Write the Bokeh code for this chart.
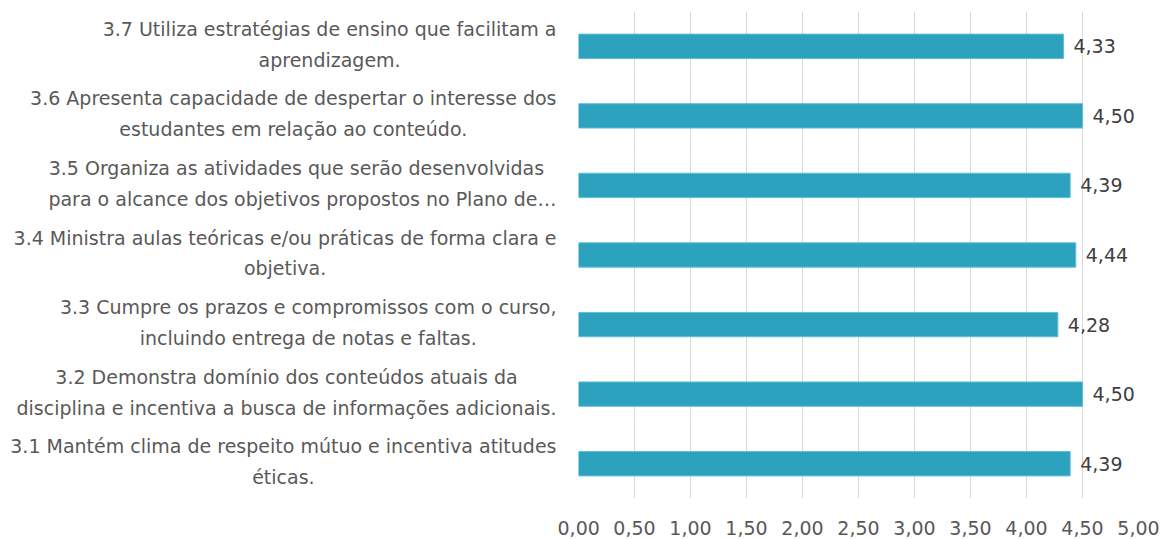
from bokeh.plotting import figure
from bokeh.layouts import row
from bokeh.models import ColumnDataSource, FixedTicker, Range1d, FactorRange
from bokeh.embed import file_html
from bokeh.resources import INLINE
from bokeh.core.properties import value

categories = [
    "3.1 Mantém clima de respeito mútuo e incentiva atitudes\néticas.",
    "3.2 Demonstra domínio dos conteúdos atuais da\ndisciplina e incentiva a busca de informações adicionais.",
    "3.3 Cumpre os prazos e compromissos com o curso,\nincluindo entrega de notas e faltas.",
    "3.4 Ministra aulas teóricas e/ou práticas de forma clara e\nobjetiva.",
    "3.5 Organiza  as atividades que serão  desenvolvidas\npara o alcance dos objetivos propostos no Plano de…",
    "3.6 Apresenta capacidade de despertar o interesse dos\nestudantes em relação ao conteúdo.",
    "3.7 Utiliza estratégias de ensino que facilitam a\naprendizagem.",
]
values = [4.39, 4.50, 4.28, 4.44, 4.39, 4.50, 4.33]
tick_values = [0, 0.5, 1, 1.5, 2, 2.5, 3, 3.5, 4, 4.5, 5]
tick_labels = ["0,00", "0,50", "1,00", "1,50", "2,00", "2,50", "3,00", "3,50", "4,00", "4,50", "5,00"]

FONT = "DejaVu Sans"
FS = "19px"
TXT = "#595959"
H = 537
TOP = 11
BOTTOM = 36

yr = FactorRange(*categories, range_padding=0)

src = ColumnDataSource(dict(
    cat=categories,
    val=values,
    lab=[f"{v:.2f}".replace(".", ",") for v in values],
    anchor_x=[1.0] * len(categories),
))

# left panel holding the category labels
lp = figure(width=557, height=H, y_range=yr, x_range=Range1d(0, 1),
            output_backend="svg", toolbar_location=None,
            min_border_left=0, min_border_right=0,
            min_border_top=TOP, min_border_bottom=BOTTOM)
lp.axis.visible = False
lp.grid.grid_line_color = None
lp.outline_line_color = None
lp.text(x="anchor_x", y="cat", text="cat", source=src, x_offset=-1, y_offset=-2,
        anchor="center_right", text_align="center", text_baseline="middle",
        text_font=value(FONT), text_font_size=FS, text_color=TXT,
        text_line_height=1.4)

p = figure(
    width=606, height=H,
    y_range=yr, x_range=Range1d(0, 5),
    output_backend="svg", toolbar_location=None,
    min_border_left=21, min_border_right=25,
    min_border_top=TOP, min_border_bottom=BOTTOM,
)
p.outline_line_color = None

p.hbar(y="cat", right="val", left=0, height=0.35, source=src,
       fill_color="#2CA2BF", line_color="#5BC0D8", line_width=1)
p.text(x="val", y="cat", text="lab", source=src, x_offset=10,
       text_align="left", text_baseline="middle",
       text_font=value(FONT), text_font_size=FS, text_color="#404040")

p.xaxis.ticker = FixedTicker(ticks=tick_values)
p.xaxis.major_label_overrides = {v: l for v, l in zip(tick_values, tick_labels)}
p.xaxis.axis_line_color = None
p.xaxis.major_tick_line_color = None
p.xaxis.minor_tick_line_color = None
p.xaxis.major_label_text_font = FONT
p.xaxis.major_label_text_font_size = FS
p.xaxis.major_label_text_color = TXT
p.xaxis.major_label_standoff = 16

p.yaxis.visible = False
p.xgrid.grid_line_color = "#D9D9D9"
p.xgrid.grid_line_width = 1
p.ygrid.grid_line_color = None

layout = row(lp, p, spacing=0)
open("out.html", "w").write(file_html(layout, INLINE))
